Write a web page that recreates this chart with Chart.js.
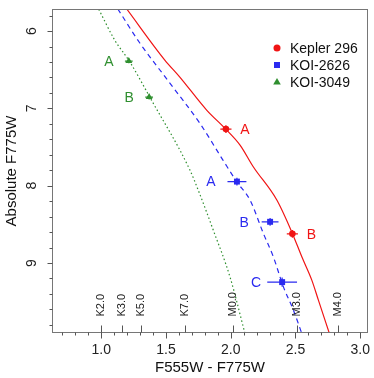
<!DOCTYPE html>
<html><head><meta charset="utf-8">
<script src="https://cdn.jsdelivr.net/npm/chart.js@4"></script>
<style>html,body{margin:0;padding:0;background:#fff}</style>
</head><body>
<canvas id="c" width="374" height="378"></canvas>
<script>
// ---------- data ----------
const xTickValues = [1.0, 1.5, 2.0, 2.5, 3.0];
const yTickValues = [6, 7, 8, 9];
const spectralTypes = ['K2.0', 'K3.0', 'K5.0', 'K7.0', 'M0.0', 'M3.0', 'M4.0'];
const spectralColors = [1.0, 1.16, 1.31, 1.645, 2.02, 2.51, 2.83];

const seriesNames = ['Kepler 296', 'KOI-2626', 'KOI-3049'];

const kepler296Labels = ['A', 'B'];
const kepler296Color = [1.963, 2.476];
const kepler296Mag = [7.268, 8.622];
const kepler296ColorErr = [0.043, 0.043];
const kepler296MagErr = [0.05, 0.05];

const koi2626Labels = ['A', 'B', 'C'];
const koi2626Color = [2.048, 2.304, 2.397];
const koi2626Mag = [7.947, 8.467, 9.247];
const koi2626ColorErr = [0.073, 0.065, 0.115];
const koi2626MagErr = [0.05, 0.05, 0.06];

const koi3049Labels = ['A', 'B'];
const koi3049Color = [1.213, 1.370];
const koi3049Mag = [6.388, 6.854];
const koi3049ColorErr = [0.03, 0.03];
const koi3049MagErr = [0.03, 0.03];

const isoKepler296Color = [1.197, 1.491, 1.607, 1.814, 1.956, 2.072, 2.174, 2.356, 2.476, 2.549, 2.626, 2.677, 2.762];
const isoKepler296Mag   = [5.715, 6.375, 6.595, 7.022, 7.259, 7.475, 7.755, 8.186, 8.617, 8.920, 9.221, 9.480, 9.911];

const isoKoi2626Color = [1.128, 1.298, 1.530, 1.762, 1.940, 2.048, 2.149, 2.252, 2.329, 2.407, 2.484, 2.549];
const isoKoi2626Mag   = [5.715, 6.155, 6.673, 7.194, 7.669, 7.953, 8.186, 8.617, 8.920, 9.308, 9.609, 9.911];

const isoKoi3049Color = [0.981, 1.104, 1.220, 1.388, 1.685, 1.749, 1.865, 1.994, 2.110];
const isoKoi3049Mag   = [5.719, 6.116, 6.397, 6.893, 7.798, 8.057, 8.574, 9.178, 9.911];

// ---------- styling ----------
const RED = '#f01414', BLUE = '#2a2af0', GREEN = '#2f8f2f';
const AXIS = '#767676';
const FONT = '"Liberation Sans", Arial, sans-serif';

const pts = (xs, ys) => xs.map((v, i) => ({x: v, y: ys[i]}));

const isoStyle = (color, dash) => ({
  showLine: true, pointRadius: 0, pointHoverRadius: 0, borderColor: color,
  borderWidth: 1.2, borderDash: dash, cubicInterpolationMode: 'monotone', fill: false, order: 2
});

const datasets = [
  Object.assign({label: 'iso1', data: pts(isoKepler296Color, isoKepler296Mag)}, isoStyle(RED, [])),
  Object.assign({label: 'iso2', data: pts(isoKoi2626Color, isoKoi2626Mag)}, isoStyle(BLUE, [5, 4])),
  Object.assign({label: 'iso3', data: pts(isoKoi3049Color, isoKoi3049Mag)}, isoStyle(GREEN, [1.5, 2.5])),
  {label: seriesNames[0], data: pts(kepler296Color, kepler296Mag), pointStyle: 'circle', pointRadius: 3.3,
   backgroundColor: RED, borderColor: RED, borderWidth: 0, showLine: false, order: 1,
   xErr: kepler296ColorErr, yErr: kepler296MagErr, letters: kepler296Labels, letterDx: 19},
  {label: seriesNames[1], data: pts(koi2626Color, koi2626Mag), pointStyle: 'rect', pointRadius: 4.2,
   backgroundColor: BLUE, borderColor: BLUE, borderWidth: 0, showLine: false, order: 1,
   xErr: koi2626ColorErr, yErr: koi2626MagErr, letters: koi2626Labels, letterDx: -26},
  {label: seriesNames[2], data: pts(koi3049Color, koi3049Mag), pointStyle: 'triangle', pointRadius: 4,
   backgroundColor: GREEN, borderColor: GREEN, borderWidth: 0, showLine: false, order: 1,
   xErr: koi3049ColorErr, yErr: koi3049MagErr, letters: koi3049Labels, letterDx: -20}
];

const decor = {
  id: 'decor',
  beforeDatasetsDraw(chart) {
    const {ctx, scales: {x, y}} = chart;
    ctx.save();
    chart.data.datasets.forEach(ds => {
      if (!ds.xErr) return;
      ctx.strokeStyle = ds.borderColor; ctx.lineWidth = 1.2;
      ds.data.forEach((p, i) => {
        const px = x.getPixelForValue(p.x), py = y.getPixelForValue(p.y);
        ctx.beginPath();
        ctx.moveTo(x.getPixelForValue(p.x - ds.xErr[i]), py);
        ctx.lineTo(x.getPixelForValue(p.x + ds.xErr[i]), py);
        ctx.moveTo(px, y.getPixelForValue(p.y - ds.yErr[i]));
        ctx.lineTo(px, y.getPixelForValue(p.y + ds.yErr[i]));
        ctx.stroke();
      });
    });
    ctx.restore();
  },
  afterDraw(chart) {
    const {ctx, chartArea: a, scales: {x, y}} = chart;
    ctx.save();
    ctx.strokeStyle = AXIS; ctx.lineWidth = 1;
    ctx.strokeRect(Math.round(a.left) + 0.5, Math.round(a.top) + 0.5,
                   Math.round(a.right - a.left) - 1, Math.round(a.bottom - a.top) - 1);
    const bot = Math.round(a.bottom) - 0.5, lft = Math.round(a.left) + 0.5;
    ctx.beginPath();
    for (let k = 7; k <= 30; k++) {
      const v = k / 10, px = Math.round(x.getPixelForValue(v)) + 0.5;
      const major = k % 5 === 0;
      ctx.moveTo(px, bot); ctx.lineTo(px, bot + (major ? 6 : 3));
    }
    for (let k = 29; k <= 49; k++) {
      const v = k / 5, py = Math.round(y.getPixelForValue(v)) + 0.5;
      const major = k % 5 === 0;
      ctx.moveTo(lft, py); ctx.lineTo(lft - (major ? 5 : 3), py);
    }
    spectralColors.forEach(v => {
      const px = Math.round(x.getPixelForValue(v)) + 0.5;
      ctx.moveTo(px, bot); ctx.lineTo(px, bot - 7);
    });
    ctx.strokeStyle = '#555'; ctx.stroke();

    ctx.fillStyle = '#222'; ctx.font = '14px ' + FONT;
    ctx.textAlign = 'center'; ctx.textBaseline = 'middle';
    yTickValues.forEach(v => {
      ctx.save();
      ctx.translate(32, y.getPixelForValue(v));
      ctx.rotate(-Math.PI / 2);
      ctx.fillText(String(v), 0, 0);
      ctx.restore();
    });
    ctx.font = '11px ' + FONT; ctx.textAlign = 'left'; ctx.fillStyle = '#222';
    spectralTypes.forEach((t, i) => {
      ctx.save();
      ctx.translate(x.getPixelForValue(spectralColors[i]), bot - 16);
      ctx.rotate(-Math.PI / 2);
      ctx.fillText(t, 0, 0);
      ctx.restore();
    });
    ctx.font = '14px ' + FONT; ctx.textAlign = 'center'; ctx.textBaseline = 'middle';
    chart.data.datasets.forEach(ds => {
      if (!ds.letters) return;
      ctx.fillStyle = ds.borderColor;
      ds.data.forEach((p, i) => {
        ctx.fillText(ds.letters[i], x.getPixelForValue(p.x) + ds.letterDx, y.getPixelForValue(p.y) + 1);
      });
    });
    const lx = 277, ly0 = 48, dy = 17;
    chart.data.datasets.filter(ds => ds.letters).forEach((ds, i) => {
      const yy = ly0 + i * dy;
      ctx.fillStyle = ds.backgroundColor;
      ctx.beginPath();
      if (ds.pointStyle === 'circle') { ctx.arc(lx, yy, 3.5, 0, Math.PI * 2); }
      else if (ds.pointStyle === 'rect') { ctx.rect(lx - 3, yy - 3, 6, 6); }
      else { ctx.moveTo(lx, yy - 4); ctx.lineTo(lx + 3.8, yy + 2.6); ctx.lineTo(lx - 3.8, yy + 2.6); ctx.closePath(); }
      ctx.fill();
      ctx.fillStyle = '#111'; ctx.textAlign = 'left'; ctx.font = '14px ' + FONT;
      ctx.fillText(ds.label, lx + 13, yy + 1);
    });
    ctx.restore();
  }
};

new Chart(document.getElementById('c'), {
  type: 'scatter',
  data: {datasets},
  plugins: [decor],
  options: {
    responsive: false, devicePixelRatio: 1, animation: false,
    layout: {padding: {top: 9, right: 6, left: 0, bottom: 0}},
    plugins: {legend: {display: false}, tooltip: {enabled: false}},
    elements: {point: {hoverRadius: 0}},
    scales: {
      x: {
        type: 'linear', min: 0.62, max: 3.06, position: 'bottom',
        afterFit: s => { s.height = 45; s.paddingLeft = 0; s.paddingRight = 0; },
        afterBuildTicks: s => { s.ticks = xTickValues.map(v => ({value: v})); },
        grid: {display: false}, border: {display: false},
        ticks: {color: '#222', font: {family: FONT, size: 14}, padding: 1,
                callback: v => Number(v).toFixed(1), autoSkip: false, maxRotation: 0},
        title: {display: true, text: 'F555W - F775W', color: '#111',
                font: {family: FONT, size: 15}, padding: {top: 0, bottom: 1}}
      },
      y: {
        type: 'linear', reverse: true, min: 5.715, max: 9.905,
        afterFit: s => { s.width = 52; s.paddingTop = 0; s.paddingBottom = 0; },
        grid: {display: false}, border: {display: false},
        ticks: {display: false},
        title: {display: true, text: 'Absolute F775W', color: '#111',
                font: {family: FONT, size: 15}, padding: {top: 3, bottom: 0}}
      }
    }
  }
});
</script>
</body></html>
